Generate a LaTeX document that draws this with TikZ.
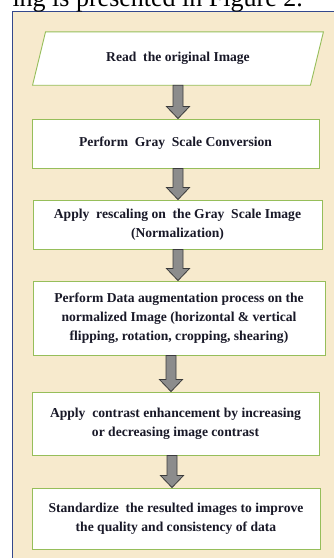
\documentclass[tikz,border=0pt]{standalone}
\usepackage{fontspec}
\setmainfont{Liberation Serif}
\usetikzlibrary{calc,backgrounds}

\definecolor{parchment}{RGB}{247,234,205}
\definecolor{frameblue}{RGB}{52,72,140}
\definecolor{boxgreen}{RGB}{150,190,90}
\definecolor{arrowgray}{RGB}{140,140,140}
\definecolor{arrowedge}{RGB}{60,60,60}
\definecolor{inkdark}{RGB}{25,25,40}

% block arrow: x position, upper node, lower node
\newcommand{\flowarrow}[3]{%
  \coordinate (s) at (#2.south -| #1,0);
  \coordinate (e) at (#3.north -| #1,0);
  \draw[blockarrow] ($(s)+(-5,0)$) -- ($(e)+(-5,-12)$) -- ($(e)+(-11.5,-12)$) -- (e)
    -- ($(e)+(11.5,-12)$) -- ($(e)+(5,-12)$) -- ($(s)+(5,0)$) -- cycle;
}

\begin{document}
\begin{tikzpicture}[x=1pt,y=-1pt,
  steptext/.style={font=\fontsize{13.6}{19}\selectfont\bfseries, text=inkdark, align=center},
  procbox/.style={rectangle, draw=boxgreen, line width=0.9pt, fill=white, inner sep=0pt},
  ioframe/.style={draw=boxgreen, line width=0.9pt, fill=white},
  blockarrow/.style={fill=arrowgray, draw=arrowedge, line width=0.8pt}]
  \useasboundingbox (0,0) rectangle (334,558);
  \clip (0,0) rectangle (334,558);

  % page text and framed panel
  \node[font=\fontsize{26}{30}\selectfont, anchor=base east, inner sep=0pt] (caption) at (303,6.5) {ing is presented in Figure 2.};
  \begin{scope}[on background layer]
    \draw[fill=parchment, draw=frameblue, line width=1pt] (12,11) rectangle (345,570);
  \end{scope}

  % steps
  \node[steptext, minimum width=277.5, minimum height=53, inner sep=0pt] (read) at (178,58.5) {Read\ \ the original Image};
  \begin{scope}[on background layer]
    \draw[ioframe] ($(read.north west)+(6.5,0)$) -- ($(read.north east)+(6.5,0)$)
      -- ($(read.south east)+(-6.5,0)$) -- ($(read.south west)+(-6.5,0)$) -- cycle;
  \end{scope}
  \node[procbox, steptext, minimum width=287, minimum height=49] (gray) at (175.5,143.5) {Perform\ \ Gray\ \ Scale Conversion};
  \node[procbox, steptext, minimum width=289, minimum height=49] (rescale) at (177.5,224.5) {Apply\ \ rescaling on\ \ the Gray\ \ Scale Image\\(Normalization)};
  \node[procbox, steptext, minimum width=292, minimum height=74] (augment) at (179,318) {Perform Data augmentation process on the\\normalized Image (horizontal \& vertical\\flipping, rotation, cropping, shearing)};
  \node[procbox, steptext, minimum width=287, minimum height=63] (contrast) at (175.5,423.5) {Apply\ \ contrast enhancement by increasing\\or decreasing image contrast};
  \node[procbox, steptext, minimum width=288, minimum height=61] (standard) at (176,518.5) {Standardize\ \ the resulted images to improve\\the quality and consistency of data};

  % arrows
  \flowarrow{178}{read}{gray}
  \flowarrow{178}{gray}{rescale}
  \flowarrow{178}{rescale}{augment}
  \flowarrow{171}{augment}{contrast}
  \flowarrow{172}{contrast}{standard}
\end{tikzpicture}
\end{document}
